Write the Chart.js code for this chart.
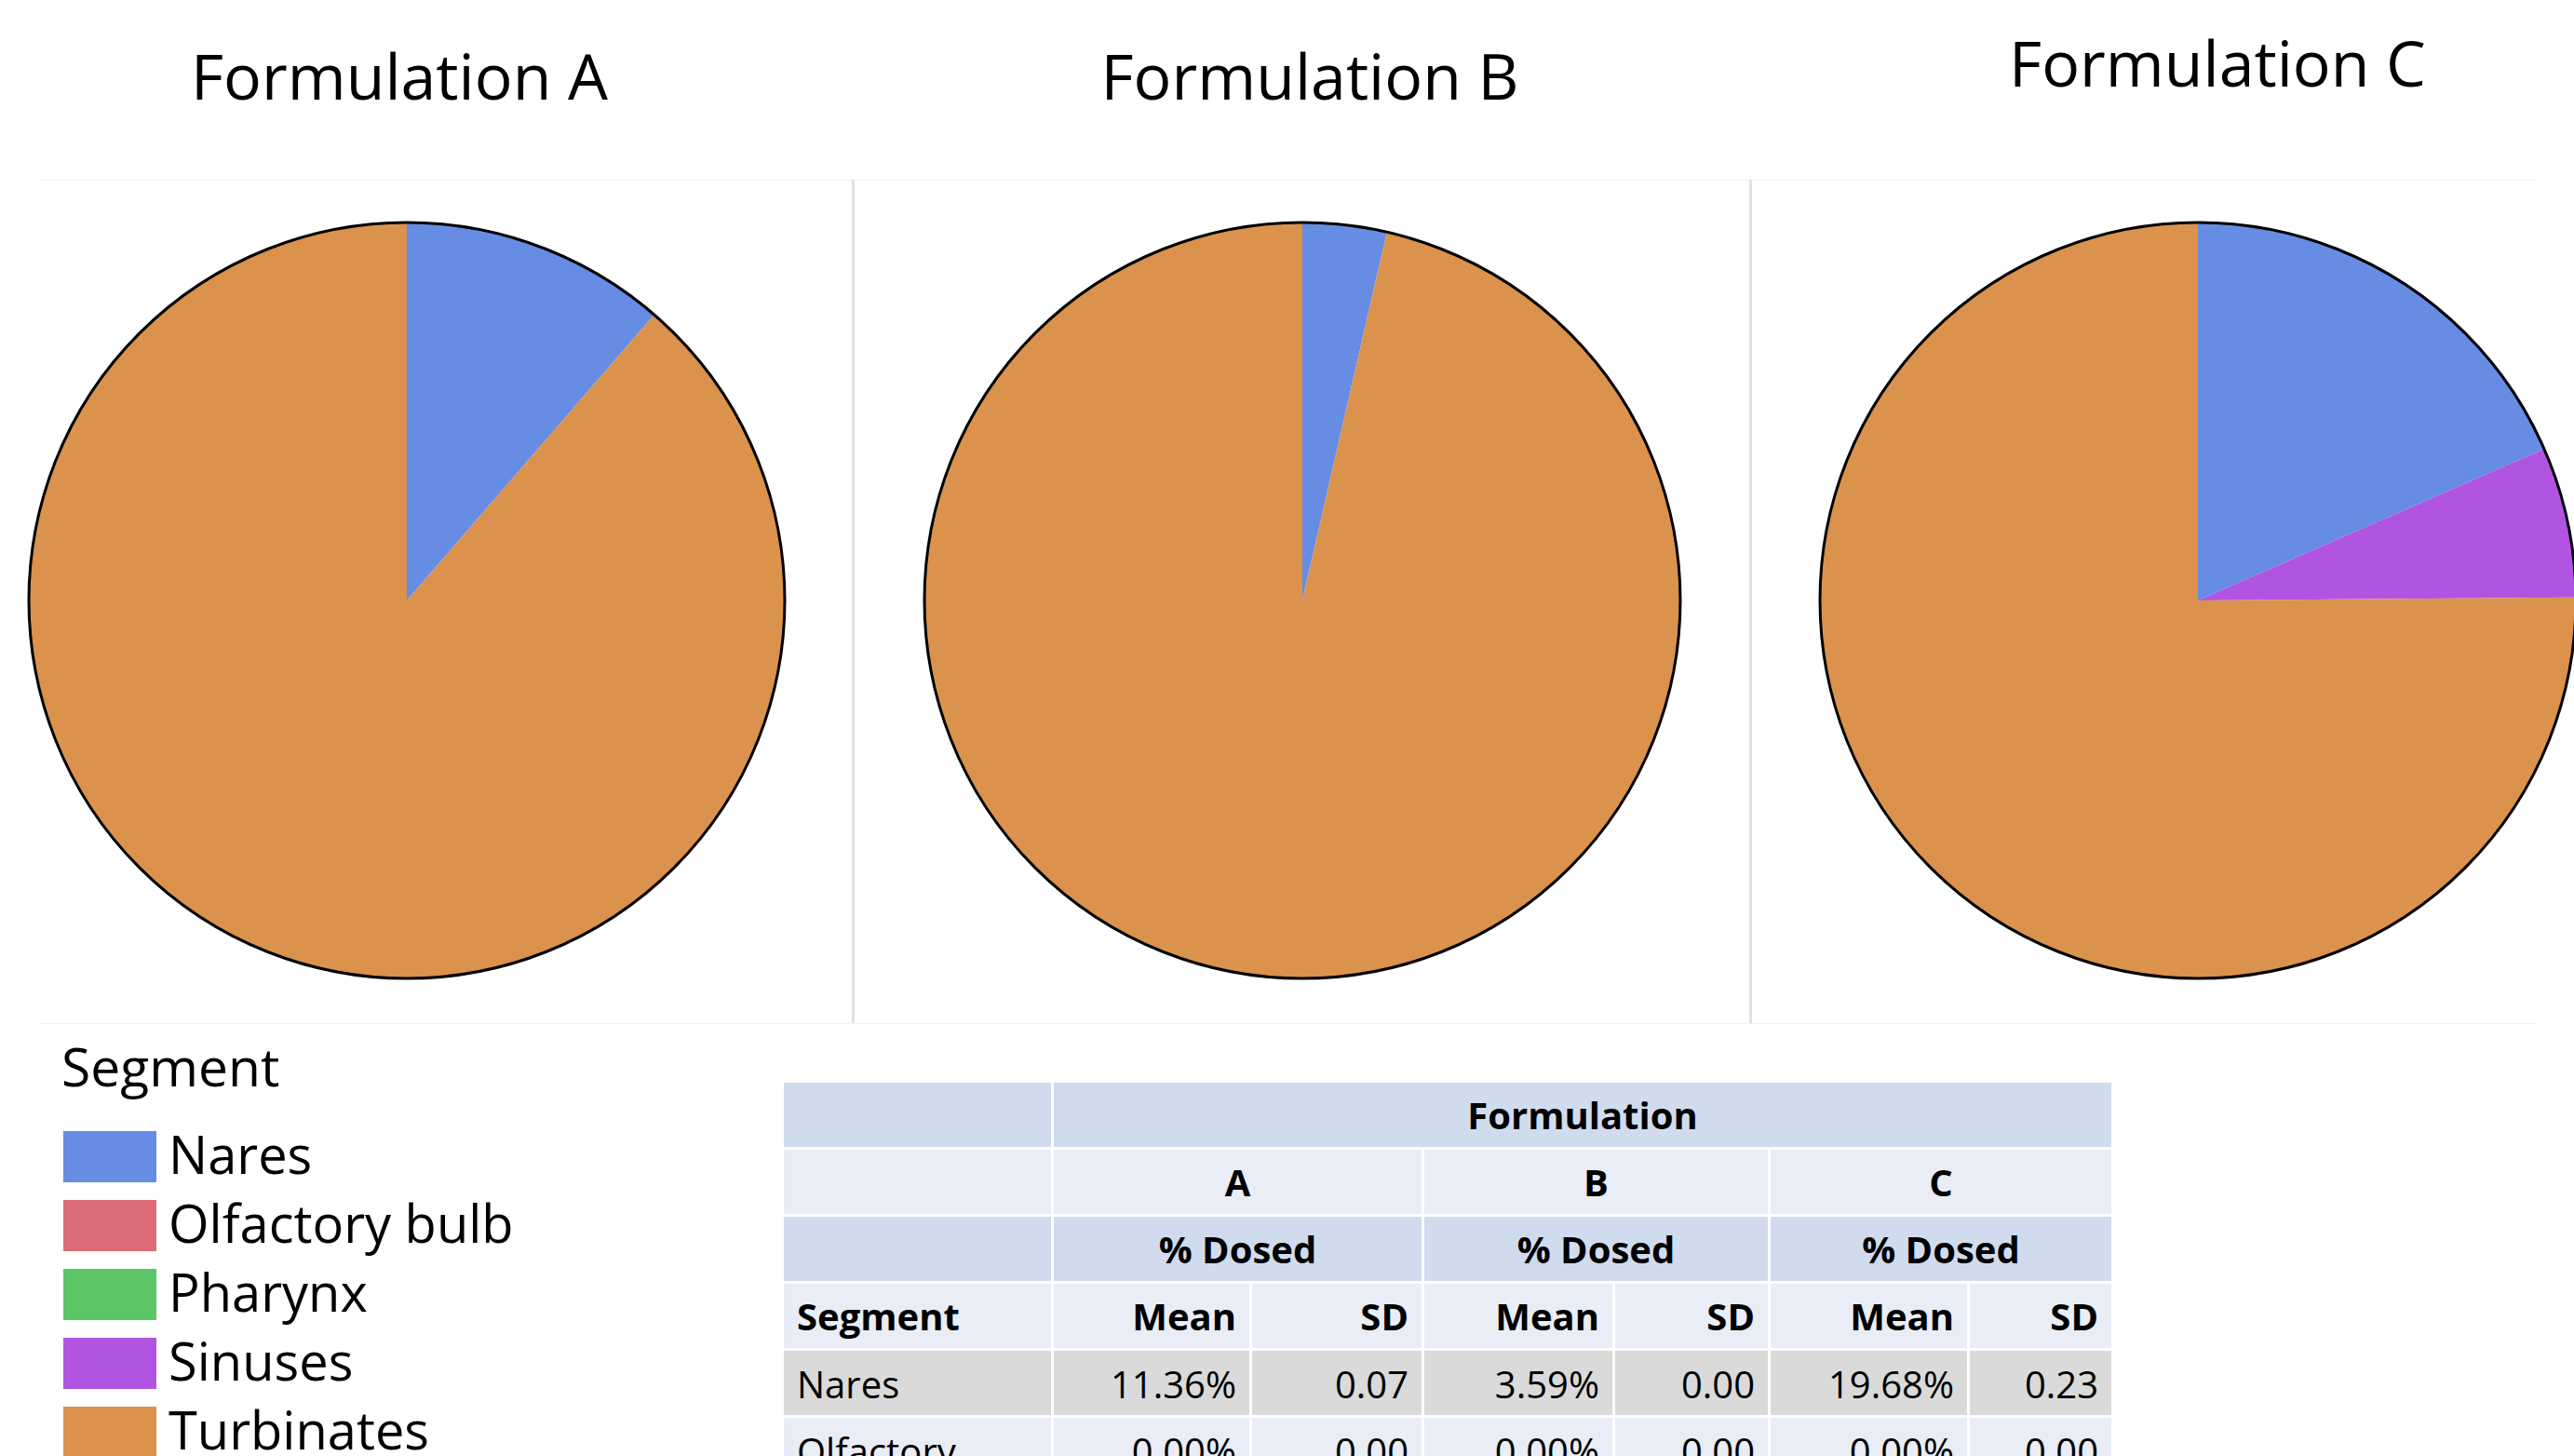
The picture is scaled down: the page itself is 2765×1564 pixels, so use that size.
<!DOCTYPE html>
<html>
<head>
<meta charset="utf-8">
<title>% Dosed by Segment and Formulation</title>
<script src="https://cdn.jsdelivr.net/npm/chart.js@4/dist/chart.umd.min.js"></script>
<style>
  html, body { margin: 0; padding: 0; background: #fff; }
  body { width: 2765px; height: 1564px; overflow: hidden; position: relative; font-family: "Open Sans", "Noto Sans", sans-serif; color: #000; }
  .abs { position: absolute; }
  .title { font-size: 68px; line-height: 68px; width: 800px; text-align: center; white-space: nowrap; }
  .vline { background: #e2e2e2; width: 3px; }
  .hline { background: #f0f0f0; height: 1px; }
  .legend-title { font-size: 57px; line-height: 57px; white-space: nowrap; }
  .legend-swatch { width: 100px; height: 55px; }
  .legend-label { font-size: 56px; line-height: 56px; white-space: nowrap; }
  table.stats { border-collapse: separate; border-spacing: 3px; table-layout: fixed; font-size: 40px; line-height: 40px; }
  table.stats td { height: 69px; padding: 0 14px; box-sizing: border-box; vertical-align: middle; white-space: nowrap; overflow: hidden; }
  table.stats td.num { text-align: right; }
  table.stats td.ctr { text-align: center; }
  table.stats tr.body td { vertical-align: top; padding-top: 16px; }
  table.stats td.lbl { white-space: normal; padding-right: 30px; }
  table.stats .b { font-weight: bold; }
  .hdrDark td { background: rgb(208, 220, 238); }
  .hdrLight td { background: rgb(233, 237, 246); }
  tr.rowGray td { background: rgb(218, 218, 218); }
  tr.rowLight td { background: rgb(233, 237, 246); }
</style>
</head>
<body>

<!-- panel frame lines -->
<div class="abs hline" style="left:42px; top:193px; width:2682px;"></div>
<div class="abs hline" style="left:42px; top:1099px; width:2682px;"></div>
<div class="abs vline" style="left:915px; top:193px; height:906px;"></div>
<div class="abs vline" style="left:1879px; top:193px; height:906px;"></div>

<div id="titleA" class="abs title" style="left:29px; top:47px;"></div>
<div id="titleB" class="abs title" style="left:1007px; top:47px;"></div>
<div id="titleC" class="abs title" style="left:1982px; top:33px;"></div>

<canvas id="pieA" class="abs" width="820" height="820" style="left:27px; top:235px;"></canvas>
<canvas id="pieB" class="abs" width="820" height="820" style="left:989px; top:235px;"></canvas>
<canvas id="pieC" class="abs" width="820" height="820" style="left:1951px; top:235px;"></canvas>

<div id="legend"></div>

<table id="stats" class="stats abs" style="left:839px; top:1160px;">
  <colgroup>
    <col style="width:287px"><col style="width:210px"><col style="width:182px">
    <col style="width:202px"><col style="width:164px"><col style="width:211px"><col style="width:152px">
  </colgroup>
  <tbody id="statsBody"></tbody>
</table>

<script>
// Segments and their colours
const segments = ['Nares', 'Olfactory bulb', 'Pharynx', 'Sinuses', 'Turbinates'];
const segmentColors = ['rgb(103, 140, 227)', 'rgb(220, 107, 119)', 'rgb(92, 197, 101)', 'rgb(177, 84, 226)', 'rgb(218, 146, 76)'];

// Formulations
const formulations = ['A', 'B', 'C'];

// Mean % dosed per segment (same order as segments)
const meanA = [11.36, 0.00, 0.00, 0.00, 88.64];
const meanB = [3.59, 0.00, 0.00, 0.00, 96.41];
const meanC = [19.68, 0.00, 0.00, 6.87, 80.20];

// Standard deviations for the first table rows
const sdA = [0.07, 0.00];
const sdB = [0.00, 0.00];
const sdC = [0.23, 0.00];

const meansByFormulation = [meanA, meanB, meanC];
const sdsByFormulation = [sdA, sdB, sdC];

// Black ring around each pie
const pieOutline = {
  id: 'pieOutline',
  afterDatasetsDraw(chart) {
    const arc = chart.getDatasetMeta(0).data[0];
    if (!arc) return;
    const { x, y, outerRadius } = arc.getProps(['x', 'y', 'outerRadius'], true);
    const ctx = chart.ctx;
    ctx.save();
    ctx.beginPath();
    ctx.arc(x, y, outerRadius, 0, Math.PI * 2);
    ctx.lineWidth = 3;
    ctx.strokeStyle = '#000';
    ctx.stroke();
    ctx.restore();
  }
};

function makePie(canvasId, values) {
  return new Chart(document.getElementById(canvasId), {
    type: 'pie',
    data: {
      labels: segments,
      datasets: [{
        data: values,
        backgroundColor: segmentColors,
        borderWidth: 0
      }]
    },
    options: {
      responsive: false,
      maintainAspectRatio: false,
      animation: false,
      layout: { padding: 4 },
      plugins: {
        legend: { display: false },
        tooltip: { enabled: false },
        title: { display: false }
      }
    },
    plugins: [pieOutline]
  });
}

['pieA', 'pieB', 'pieC'].forEach((id, i) => makePie(id, meansByFormulation[i]));
['titleA', 'titleB', 'titleC'].forEach((id, i) => {
  document.getElementById(id).textContent = 'Formulation ' + formulations[i];
});

// Legend
(function buildLegend() {
  const host = document.getElementById('legend');
  const head = document.createElement('div');
  head.className = 'abs legend-title';
  head.style.left = '66px';
  head.style.top = '1117px';
  head.textContent = 'Segment';
  host.appendChild(head);
  segments.forEach((name, i) => {
    const sw = document.createElement('div');
    sw.className = 'abs legend-swatch';
    sw.style.left = '68px';
    sw.style.top = (1215 + 74 * i) + 'px';
    sw.style.background = segmentColors[i];
    host.appendChild(sw);
    const lb = document.createElement('div');
    lb.className = 'abs legend-label';
    lb.style.left = '181px';
    lb.style.top = (1211 + 74 * i) + 'px';
    lb.textContent = name;
    host.appendChild(lb);
  });
})();

// Statistics table
(function buildTable() {
  const body = document.getElementById('statsBody');
  const addRow = (cls, cells) => {
    const tr = document.createElement('tr');
    tr.className = cls;
    cells.forEach(c => {
      const td = document.createElement('td');
      td.textContent = c.text;
      if (c.span) td.colSpan = c.span;
      td.className = c.cls || '';
      tr.appendChild(td);
    });
    body.appendChild(tr);
  };
  addRow('hdrDark', [{ text: '' }, { text: 'Formulation', span: 6, cls: 'ctr b' }]);
  addRow('hdrLight', [{ text: '' }].concat(formulations.map(f => ({ text: f, span: 2, cls: 'ctr b' }))));
  addRow('hdrDark', [{ text: '' }].concat(formulations.map(() => ({ text: '% Dosed', span: 2, cls: 'ctr b' }))));
  const sub = [{ text: 'Segment', cls: 'b' }];
  formulations.forEach(() => { sub.push({ text: 'Mean', cls: 'num b' }); sub.push({ text: 'SD', cls: 'num b' }); });
  addRow('hdrLight', sub);
  for (let r = 0; r < sdA.length; r++) {
    const cells = [{ text: segments[r], cls: 'lbl' }];
    formulations.forEach((f, k) => {
      cells.push({ text: meansByFormulation[k][r].toFixed(2) + '%', cls: 'num' });
      cells.push({ text: sdsByFormulation[k][r].toFixed(2), cls: 'num' });
    });
    addRow('body ' + (r % 2 === 0 ? 'rowGray' : 'rowLight'), cells);
  }
})();
</script>
</body>
</html>
